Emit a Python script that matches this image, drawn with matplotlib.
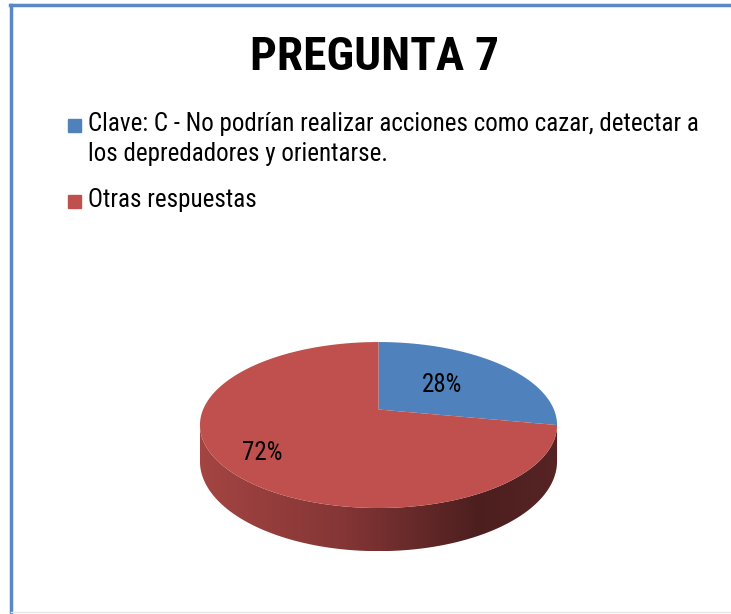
import numpy as np
import matplotlib
matplotlib.use('Agg')
import matplotlib.pyplot as plt
from matplotlib.patches import Polygon, Rectangle
from matplotlib.lines import Line2D

# datos del grafico
titulo = 'PREGUNTA 7'
etiquetas = ['Clave: C - No podrían realizar acciones como cazar, detectar a\nlos depredadores y orientarse.',
             'Otras respuestas']
valores = [28, 72]
colores = ['#4F81BD', '#C0504D']
radio_etiqueta = [0.5, 0.78]

# fuente estrecha parecida a Arial Narrow
plt.rcParams['font.family'] = ['Roboto Condensed', 'Liberation Sans', 'DejaVu Sans']

W, H = 731, 614
fig = plt.figure(figsize=(W / 100, H / 100), dpi=100)
ax = fig.add_axes([0, 0, 1, 1])
ax.set_xlim(0, W)
ax.set_ylim(H, 0)
ax.axis('off')

# marco
ax.add_line(Line2D([10, W], [5, 5], color='#5A87C6', lw=2.5))
ax.add_line(Line2D([11, 11], [5, H], color='#5A87C6', lw=2.5))
ax.add_line(Line2D([11, W], [612, 612], color='#E6E6E6', lw=1))

# titulo
ax.text(375, 57, titulo, ha='center', va='center', fontsize=34,
        fontweight='bold')

# leyenda
y_ley = [125, 201]
for y, lab, col in zip(y_ley, etiquetas, colores):
    ax.add_patch(Rectangle((68, y - 6.5), 13, 13, color=col))
    ax.text(88, y - 13, lab, ha='left', va='top', fontsize=18, linespacing=1.3)

# pastel 3D con perspectiva sencilla
cx, cy, P = 378.5, 409.5, 175.4
k, s, d = 0.187, 0.4566, 0.2


def proyectar(r, th, h=0.0):
    X = r * np.cos(th)
    Y = r * np.sin(th)
    w = 1 + k * Y
    return cx + P * X / w, cy + P * (-Y * s + h) / w


total = sum(valores)
angulos = [np.pi / 2]
for v in valores:
    angulos.append(angulos[-1] - 2 * np.pi * v / total)

# lado frontal visible
th_der = -np.arcsin(k)
th_izq = -np.pi + np.arcsin(k)
th = np.linspace(th_der, th_izq, 200)
xs_t, ys_t = proyectar(1, th)
xs_b, ys_b = proyectar(1, th, d)
lado = np.column_stack([np.r_[xs_t, xs_b[::-1]], np.r_[ys_t, ys_b[::-1]]])
poly = Polygon(lado, closed=True, facecolor='none', edgecolor='none')
ax.add_patch(poly)
grad_cols = np.array([[0.64, 0.27, 0.26], [0.52, 0.21, 0.21],
                      [0.30, 0.12, 0.12], [0.34, 0.14, 0.14]])
pos = np.array([0.0, 0.4, 0.78, 1.0])
t = np.linspace(0, 1, 256)
img = np.stack([np.interp(t, pos, grad_cols[:, c]) for c in range(3)], axis=-1)[None, :, :]
im = ax.imshow(img, extent=[xs_t.min(), xs_t.max(), ys_b.max(), ys_t.min()],
               aspect='auto', interpolation='bilinear', zorder=1)
im.set_clip_path(poly)

# cara superior
for i, col in enumerate(colores):
    th = np.linspace(angulos[i], angulos[i + 1], 200)
    xs, ys = proyectar(1, th)
    pts = np.column_stack([np.r_[cx, xs], np.r_[cy, ys]])
    ax.add_patch(Polygon(pts, closed=True, facecolor=col, edgecolor='none', zorder=2))

# etiquetas de porcentaje
for i, v in enumerate(valores):
    mid = (angulos[i] + angulos[i + 1]) / 2
    x, y = proyectar(radio_etiqueta[i], mid)
    ax.text(x, y, f'{v}%', ha='center', va='center', fontsize=18, zorder=3)

fig.savefig('out.png', dpi=100)
